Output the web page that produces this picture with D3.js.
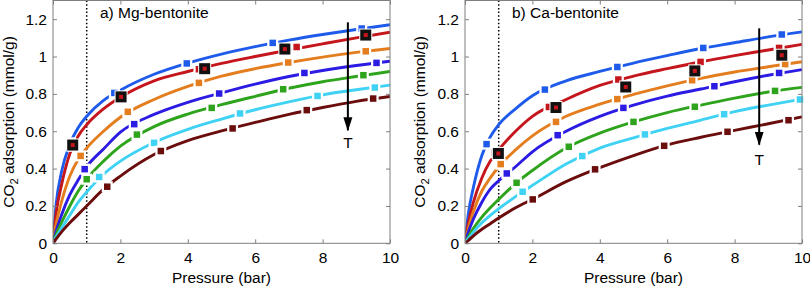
<!DOCTYPE html>
<html><head><meta charset="utf-8">
<script src="https://cdn.jsdelivr.net/npm/d3@7"></script>
<style>
body{margin:0;background:#fff;}
svg{display:block;font-family:"Liberation Sans",Arial,Helvetica,sans-serif;}
</style></head>
<body><svg id="chart" width="810" height="288"></svg>
<script>
// ---------- data ----------
const pressure = [0,0.1,0.25,0.5,0.75,1,1.5,2,3,4,5,6,7,8,9,10];
const xTicks = [0,2,4,6,8,10];
const yTicks = [0,0.2,0.4,0.6,0.8,1,1.2];
const seriesColors = ["#1f5bea","#c4161c","#e47d1e","#2b1be3","#2ea41d","#3fd2f4","#6b0d0d"];
const panelTitles = ["a) Mg-bentonite","b) Ca-bentonite"];

// Mg-bentonite fitted curves (mmol/g)
const mgBlue   = [0,0.22,0.38,0.53,0.62,0.68,0.765,0.82,0.905,0.965,1.013,1.053,1.088,1.118,1.145,1.17];
const mgRed    = [0,0.17,0.31,0.48,0.575,0.635,0.72,0.782,0.87,0.92,0.963,1.0,1.035,1.068,1.1,1.13];
const mgOrange = [0,0.11,0.22,0.36,0.45,0.51,0.6,0.675,0.77,0.84,0.895,0.935,0.968,0.997,1.022,1.043];
const mgPurple = [0,0.07,0.15,0.26,0.34,0.41,0.505,0.595,0.69,0.755,0.805,0.852,0.893,0.925,0.952,0.975];
const mgGreen  = [0,0.05,0.11,0.2,0.28,0.343,0.44,0.52,0.625,0.692,0.742,0.787,0.83,0.865,0.893,0.92];
const mgCyan   = [0,0.035,0.08,0.15,0.22,0.275,0.37,0.44,0.54,0.61,0.665,0.715,0.757,0.795,0.822,0.847];
const mgBrown  = [0,0.025,0.06,0.11,0.155,0.2,0.29,0.36,0.475,0.55,0.602,0.647,0.69,0.727,0.76,0.786];

// Ca-bentonite fitted curves (mmol/g)
const caBlue   = [0,0.16,0.3,0.47,0.57,0.635,0.72,0.79,0.87,0.92,0.965,1.005,1.043,1.074,1.105,1.132];
const caRed    = [0,0.11,0.22,0.35,0.44,0.5,0.6,0.68,0.77,0.845,0.895,0.935,0.972,1.005,1.035,1.065];
const caOrange = [0,0.08,0.17,0.28,0.35,0.41,0.5,0.575,0.68,0.745,0.797,0.843,0.883,0.917,0.945,0.972];
const caPurple = [0,0.06,0.13,0.22,0.29,0.335,0.41,0.49,0.6,0.68,0.74,0.788,0.826,0.865,0.9,0.93];
const caGreen  = [0,0.035,0.08,0.14,0.19,0.235,0.32,0.39,0.51,0.59,0.65,0.7,0.74,0.777,0.81,0.835];
const caCyan   = [0,0.025,0.06,0.11,0.15,0.185,0.25,0.31,0.425,0.51,0.565,0.615,0.66,0.705,0.74,0.772];
const caBrown  = [0,0.015,0.04,0.075,0.105,0.135,0.19,0.235,0.33,0.405,0.47,0.527,0.568,0.605,0.64,0.677];

// markers [pressure, adsorption]
const mgMarkBlue   = [[0.525,0.538],[1.82,0.805],[3.97,0.963],[6.52,1.073],[9.16,1.15]];
const mgMarkRed    = [[0.59,0.52],[2.0,0.78],[4.33,0.932],[7.23,1.051],[9.28,1.11]];
const mgMarkOrange = [[0.82,0.468],[2.22,0.704],[4.33,0.859],[6.98,0.968],[9.28,1.028]];
const mgMarkPurple = [[0.94,0.397],[2.41,0.638],[4.93,0.802],[7.46,0.912],[9.6,0.966]];
const mgMarkGreen  = [[1.0,0.343],[2.49,0.582],[4.71,0.725],[6.83,0.825],[9.21,0.9]];
const mgMarkCyan   = [[1.37,0.355],[3.0,0.538],[5.55,0.695],[7.85,0.789],[9.55,0.834]];
const mgMarkBrown  = [[1.61,0.303],[3.2,0.494],[5.33,0.615],[7.53,0.713],[9.5,0.775]];
const mgExp        = [[0.585,0.526],[2.02,0.784],[4.5,0.935],[6.88,1.04],[9.28,1.115]];

const caMarkBlue   = [[0.64,0.531],[2.37,0.823],[4.52,0.944],[7.07,1.046],[9.4,1.118]];
const caMarkRed    = [[0.89,0.485],[2.49,0.73],[4.55,0.877],[6.99,0.971],[9.32,1.046]];
const caMarkOrange = [[1.06,0.424],[2.7,0.65],[4.52,0.772],[6.74,0.873],[9.5,0.959]];
const caMarkPurple = [[1.24,0.374],[2.75,0.579],[4.7,0.725],[7.4,0.841],[9.32,0.912]];
const caMarkGreen  = [[1.53,0.324],[3.08,0.517],[5.0,0.65],[6.82,0.731],[9.2,0.816]];
const caMarkCyan   = [[1.71,0.276],[3.48,0.467],[5.34,0.583],[7.69,0.691],[9.94,0.77]];
const caMarkBrown  = [[2.01,0.235],[3.86,0.396],[5.91,0.522],[7.79,0.597],[9.6,0.659]];
const caExp        = [[0.99,0.481],[2.7,0.727],[4.77,0.837],[6.82,0.923],[9.4,1.007]];

// arrow (T direction): [pressure, top, tip]
const mgArrow = [8.75, 1.183, 0.605];
const caArrow = [8.73, 1.151, 0.528];

// ---------- drawing ----------
const panels = [
  {x0:53, x1:390, curves:[mgBlue,mgRed,mgOrange,mgPurple,mgGreen,mgCyan,mgBrown],
   marks:[mgMarkBlue,mgMarkRed,mgMarkOrange,mgMarkPurple,mgMarkGreen,mgMarkCyan,mgMarkBrown],
   exp:mgExp, arrow:mgArrow, title:panelTitles[0], titleX:100, ylabX:13.5, tY:148},
  {x0:465, x1:802, curves:[caBlue,caRed,caOrange,caPurple,caGreen,caCyan,caBrown],
   marks:[caMarkBlue,caMarkRed,caMarkOrange,caMarkPurple,caMarkGreen,caMarkCyan,caMarkBrown],
   exp:caExp, arrow:caArrow, title:panelTitles[1], titleX:512, ylabX:425, tY:165}
];

const svg = d3.select("#chart");
const yTop = 0.5, yBot = 243.3;
const axisColor = "#7f7f7f";
const fs = 15.5;

const defs = svg.append("defs");
defs.append("marker")
  .attr("id","ah").attr("viewBox","0 0 14 10").attr("refX",13).attr("refY",5)
  .attr("markerWidth",14).attr("markerHeight",10).attr("markerUnits","userSpaceOnUse")
  .attr("orient","auto")
  .append("path").attr("d","M0,0.5 L14,5 L0,9.5 Z").attr("fill","#000");

panels.forEach((p,pi) => {
  const x = d3.scaleLinear().domain([0,10]).range([p.x0,p.x1]);
  const y = d3.scaleLinear().domain([0,1.3]).range([yBot,yTop]);
  const g = svg.append("g");

  const clipId = "clip"+pi;
  defs.append("clipPath").attr("id",clipId)
    .append("rect").attr("x",p.x0).attr("y",yTop).attr("width",p.x1-p.x0).attr("height",yBot-yTop);

  // dotted line at 1 bar
  g.append("line").attr("x1",x(1)).attr("x2",x(1)).attr("y1",y(1.3)).attr("y2",y(0))
    .attr("stroke","#000").attr("stroke-width",1.5).attr("stroke-dasharray","1.5,2.2");

  // curves
  const line = d3.line().x((d,i)=>x(pressure[i])).y(d=>y(d)).curve(d3.curveMonotoneX);
  const cg = g.append("g").attr("clip-path",`url(#${clipId})`);
  p.curves.forEach((c,i)=>{
    cg.append("path").attr("d",line(c)).attr("fill","none")
      .attr("stroke",seriesColors[i]).attr("stroke-width",2.9);
  });

  // markers
  const ms = 6.5, wb = 11;
  p.marks.forEach((m,i)=>{
    m.forEach(d=>{
      g.append("rect").attr("x",x(d[0])-wb/2).attr("y",y(d[1])-wb/2).attr("width",wb).attr("height",wb).attr("fill","#fff");
      g.append("rect").attr("x",x(d[0])-ms/2).attr("y",y(d[1])-ms/2).attr("width",ms).attr("height",ms).attr("fill",seriesColors[i]);
    });
  });
  // experimental (black) markers
  p.exp.forEach(d=>{
    g.append("rect").attr("x",x(d[0])-6.5).attr("y",y(d[1])-6.5).attr("width",13).attr("height",13).attr("fill","#fff");
    g.append("rect").attr("x",x(d[0])-5.5).attr("y",y(d[1])-5.5).attr("width",11).attr("height",11).attr("fill","#111");
    g.append("rect").attr("x",x(d[0])-2).attr("y",y(d[1])-2).attr("width",4).attr("height",4).attr("fill","#c4161c");
  });

  // arrow
  g.append("line").attr("x1",x(p.arrow[0])).attr("x2",x(p.arrow[0]))
    .attr("y1",y(p.arrow[1])).attr("y2",y(p.arrow[2]))
    .attr("stroke","#000").attr("stroke-width",2).attr("marker-end","url(#ah)");
  g.append("text").attr("x",x(p.arrow[0])).attr("y",p.tY).attr("text-anchor","middle")
    .attr("font-size",fs).attr("fill","#000").text("T");

  // box
  g.append("rect").attr("x",p.x0).attr("y",yTop).attr("width",p.x1-p.x0).attr("height",yBot-yTop)
    .attr("fill","none").attr("stroke",axisColor).attr("stroke-width",1);

  // axes
  const ax = (gen, tr, labels) => {
    const a = g.append("g").attr("transform",tr).call(gen);
    a.select(".domain").remove();
    a.selectAll("line").attr("stroke",axisColor);
    a.selectAll("text").attr("font-size",fs).attr("font-family","Liberation Sans, Arial, sans-serif").attr("fill","#000");
    if(!labels) a.selectAll("text").remove();
    return a;
  };
  const fmt = d3.format("~g");
  ax(d3.axisBottom(x).tickValues(xTicks).tickFormat(fmt).tickSizeInner(-4).tickSizeOuter(0).tickPadding(9), `translate(0,${yBot})`, true);
  ax(d3.axisTop(x).tickValues(xTicks).tickSizeInner(-4).tickSizeOuter(0), `translate(0,${yTop})`, false);
  ax(d3.axisLeft(y).tickValues(yTicks).tickFormat(fmt).tickSizeInner(-4).tickSizeOuter(0).tickPadding(6), `translate(${p.x0},0)`, true);
  ax(d3.axisRight(y).tickValues(yTicks).tickSizeInner(-4).tickSizeOuter(0), `translate(${p.x1},0)`, false);

  // title
  g.append("text").attr("x",p.titleX).attr("y",18).attr("font-size",fs).attr("fill","#000").text(p.title);

  // axis labels
  g.append("text").attr("x",(p.x0+p.x1)/2).attr("y",283).attr("text-anchor","middle")
    .attr("font-size",fs).attr("fill","#000").text("Pressure (bar)");
  const yl = g.append("text").attr("transform",`translate(${p.ylabX},122) rotate(-90)`)
    .attr("text-anchor","middle").attr("font-size",fs).attr("fill","#000");
  yl.append("tspan").text("CO");
  yl.append("tspan").attr("font-size",fs*0.72).attr("dy",4).text("2");
  yl.append("tspan").attr("dy",-4).text(" adsorption (mmol/g)");
});
</script>
</body></html>
